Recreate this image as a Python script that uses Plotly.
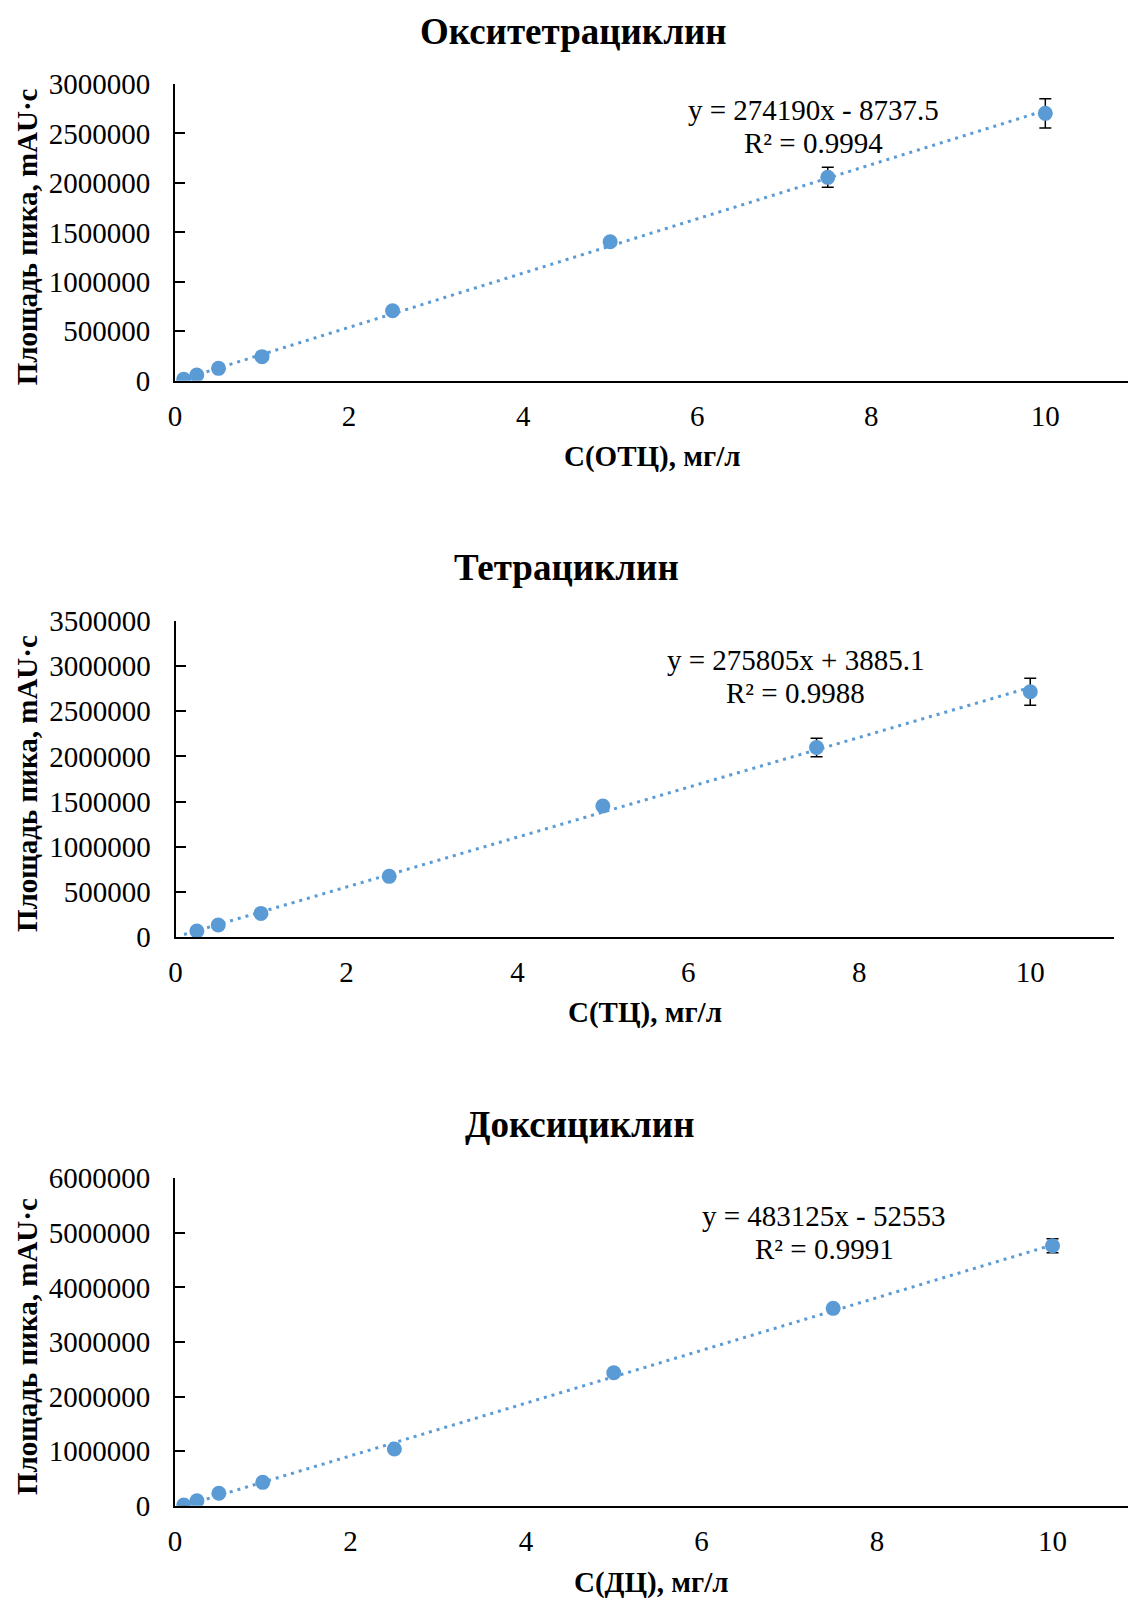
import plotly.graph_objects as go

# Calibration data for three tetracyclines
titles = ["Окситетрациклин", "Тетрациклин", "Доксициклин"]
x_titles = ["С(ОТЦ), мг/л", "С(ТЦ), мг/л", "С(ДЦ), мг/л"]
y_title = "Площадь пика, mAU·c"

conc_otc = [0.1, 0.25, 0.5, 1, 2.5, 5, 7.5, 10]
area_otc = [14000, 58000, 125000, 243000, 708000, 1405000, 2056000, 2703000]
err_otc = [0, 0, 0, 0, 0, 0, 101000, 148000]

conc_tc = [0.25, 0.5, 1, 2.5, 5, 7.5, 10]
area_tc = [70000, 136000, 264000, 674000, 1451000, 2099000, 2714000]
err_tc = [0, 0, 0, 0, 0, 102000, 149000]

conc_dc = [0.1, 0.25, 0.5, 1, 2.5, 5, 7.5, 10]
area_dc = [13000, 92000, 227000, 428000, 1039000, 2437000, 3617000, 4765000]
err_dc = [0, 0, 0, 0, 0, 0, 0, 128000]

# Linear trendlines (slope, intercept, R²) and x span
slopes = [274190, 275805, 483125]
intercepts = [-8737.5, 3885.1, -52553]
r2_values = ["0.9994", "0.9988", "0.9991"]
trend_x_start = [0.1, 0.1, 0.1]
trend_x_end = [10, 10, 10]

y_max = [3000000, 3500000, 6000000]
y_step = [500000, 500000, 1000000]
x_max = [10.95, 10.98, 10.86]
x_ticks = [0, 2, 4, 6, 8, 10]

W, H = 1128, 1599
BLUE = "#5B9BD5"
FONT = "Times New Roman, Liberation Serif, serif"

# Plot-area geometry in pixels: (left, right, top, bottom)
boxes = [(175, 1128, 84, 380.7), (175.5, 1114, 620.7, 937.3), (175, 1128, 1178.3, 1505.7)]
title_pos = [(573, 31.5), (566, 567), (579, 1124)]
xtitle_y = [456.7, 1013, 1582]
eq_pos = [(813, 110, 143), (795.5, 660, 692.5), (824, 1216, 1249)]

datasets = [(conc_otc, area_otc, err_otc), (conc_tc, area_tc, err_tc), (conc_dc, area_dc, err_dc)]

fig = go.Figure()
annotations = []
layout_axes = {}

for i in range(3):
    sfx = "" if i == 0 else str(i + 1)
    xa, ya = "x" + sfx, "y" + sfx
    xs, ys, es = datasets[i]
    m, b = slopes[i], intercepts[i]
    tx = [trend_x_start[i], trend_x_end[i]]
    ty = [m * v + b for v in tx]

    fig.add_trace(go.Scatter(
        x=tx, y=ty, mode="lines", xaxis=xa, yaxis=ya, showlegend=False,
        line=dict(color=BLUE, width=3, dash="3px,5px"), hoverinfo="skip"))
    fig.add_trace(go.Scatter(
        x=xs, y=ys, mode="markers", xaxis=xa, yaxis=ya, showlegend=False,
        marker=dict(color=BLUE, size=15),
        error_y=dict(type="data", array=es, visible=True, color="black",
                     thickness=1.5, width=6)))

    l, r, t, btm = boxes[i]
    layout_axes["xaxis" + sfx] = dict(
        domain=[l / W, r / W], range=[0, x_max[i]], anchor=ya, automargin=False,
        tickvals=x_ticks, ticks="", showgrid=False, zeroline=False,
        showline=True, linecolor="black", linewidth=2,
        tickfont=dict(family=FONT, size=29, color="black"),
        ticklabelstandoff=8)
    layout_axes["yaxis" + sfx] = dict(
        domain=[1 - btm / H, 1 - t / H], range=[0, y_max[i]], anchor=xa, automargin=False,
        dtick=y_step[i], tick0=0, tickformat="d", ticks="inside", ticklen=10,
        tickwidth=2, tickcolor="black", showgrid=False, zeroline=False,
        showline=True, linecolor="black", linewidth=2,
        tickfont=dict(family=FONT, size=29, color="black"),
        ticklabelstandoff=17)

    # Chart title
    annotations.append(dict(
        text="<b>%s</b>" % titles[i], x=title_pos[i][0] / W, y=1 - title_pos[i][1] / H,
        xref="paper", yref="paper", showarrow=False, xanchor="center", yanchor="middle",
        font=dict(family=FONT, size=37, color="black")))
    # Axis titles
    annotations.append(dict(
        text="<b>%s</b>" % x_titles[i], x=((l + r) / 2) / W, y=1 - xtitle_y[i] / H,
        xref="paper", yref="paper", showarrow=False, xanchor="center", yanchor="middle",
        font=dict(family=FONT, size=29, color="black")))
    annotations.append(dict(
        text="<b>%s</b>" % y_title, x=27 / W, y=1 - ((t + btm) / 2 + 5) / H,
        xref="paper", yref="paper", showarrow=False, xanchor="center", yanchor="middle",
        textangle=-90, font=dict(family=FONT, size=29, color="black")))
    # Trendline equation and R²
    sign = "-" if b < 0 else "+"
    b_txt = ("%g" % abs(b))
    eq = "y = %dx %s %s" % (m, sign, b_txt)
    ex, ey1, ey2 = eq_pos[i]
    annotations.append(dict(
        text=eq, x=ex / W, y=1 - ey1 / H, xref="paper", yref="paper", showarrow=False,
        xanchor="center", yanchor="middle", font=dict(family=FONT, size=29, color="black")))
    annotations.append(dict(
        text="R² = %s" % r2_values[i], x=ex / W, y=1 - ey2 / H, xref="paper", yref="paper",
        showarrow=False, xanchor="center", yanchor="middle",
        font=dict(family=FONT, size=29, color="black")))

fig.update_layout(
    width=W, height=H, margin=dict(l=0, r=0, t=0, b=0, autoexpand=False),
    paper_bgcolor="white", plot_bgcolor="white",
    annotations=annotations, **layout_axes)

# Page body without default margin so the figure fills the window exactly
fig.write_html("out.html",
               post_script="document.body.style.margin='0';document.body.style.overflow='hidden';")
